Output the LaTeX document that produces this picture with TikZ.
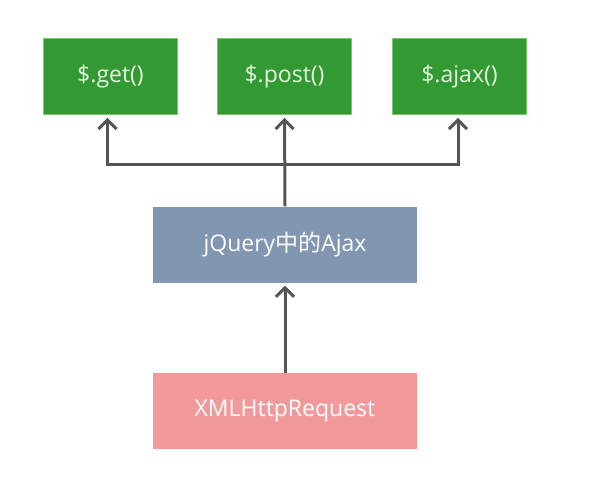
\documentclass[tikz,border=0pt]{standalone}
\usepackage{fontspec}
\setmainfont{Open Sans}
\newfontfamily\cjk{Noto Sans CJK SC}
\usetikzlibrary{arrows.meta}
\definecolor{boxgreen}{RGB}{51,153,51}
\definecolor{boxgreenedge}{RGB}{120,200,110}
\definecolor{boxblue}{RGB}{129,150,176}
\definecolor{boxpink}{RGB}{242,154,155}
\definecolor{arrowgray}{RGB}{85,85,85}
\definecolor{txtgreen}{RGB}{230,245,225}
\begin{document}
\begin{tikzpicture}[x=1pt,y=-1pt,
  box/.style={minimum height=76pt, inner sep=0pt, text=white, font=\fontsize{23}{27}\selectfont},
  gbox/.style={box, fill=boxgreen, draw=boxgreenedge, line width=0.8pt, minimum width=134pt, text=txtgreen},
  wbox/.style={box, minimum width=264pt},
  arr/.style={draw=arrowgray, line width=3pt, -{Straight Barb[length=9pt,width=18pt]}, shorten >=3pt}]
\fill[white] (0,0) rectangle (589,480);
\useasboundingbox (0,0) rectangle (589,480);
\node[gbox] (get) at (110.5,76.5) {\$.get()};
\node[gbox] (post) at (284.5,76.5) {\$.post()};
\node[gbox] (ajax) at (459.5,76.5) {\$.ajax()};
\node[wbox, fill=boxblue] (jq) at (285,244.5) {jQuery{\cjk 中的}Ajax};
\node[wbox, fill=boxpink] (xhr) at (285,411) {XMLHttpRequest};
\coordinate (j) at (285,164);
\draw[arr] (xhr.north) -- (jq.south);
\draw[arr] (jq.north) -- (post.south);
\draw[arr] (j) -| ([xshift=-3pt]get.south);
\draw[arr] (j) -| ([xshift=-1.5pt]ajax.south);
\end{tikzpicture}
\end{document}
